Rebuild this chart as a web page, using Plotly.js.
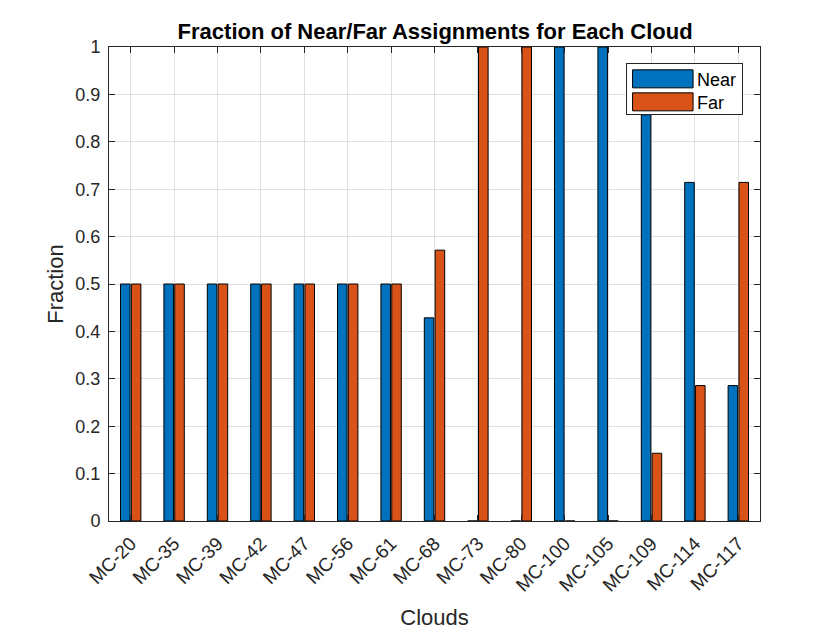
<!DOCTYPE html>
<html>
<head>
<meta charset="utf-8">
<script src="https://cdn.plot.ly/plotly-3.0.1.min.js"></script>
<style>html,body{margin:0;padding:0;background:#fff;}</style>
</head>
<body>
<div id="chart" style="width:840px;height:630px;"></div>
<script>
var clouds = ["MC-20","MC-35","MC-39","MC-42","MC-47","MC-56","MC-61","MC-68","MC-73","MC-80","MC-100","MC-105","MC-109","MC-114","MC-117"];
var nearFrac = [0.5,0.5,0.5,0.5,0.5,0.5,0.5,0.4286,0,0,1,1,0.8571,0.7143,0.2857];
var farFrac  = [0.5,0.5,0.5,0.5,0.5,0.5,0.5,0.5714,1,1,0,0,0.1429,0.2857,0.7143];
var yTicks = [0,0.1,0.2,0.3,0.4,0.5,0.6,0.7,0.8,0.9,1];
var yTickText = ["0","0.1","0.2","0.3","0.4","0.5","0.6","0.7","0.8","0.9","1"];

var font = "Liberation Sans, Arial, Helvetica, sans-serif";
var traces = [
  {type:"bar", name:"Near", x:clouds, y:nearFrac,
   marker:{color:"#0072BD", line:{color:"#000000", width:1}}},
  {type:"bar", name:"Far", x:clouds, y:farFrac,
   marker:{color:"#D95319", line:{color:"#000000", width:1}}}
];
var axisCommon = {
  showline:true, mirror:"ticks", linecolor:"#262626", linewidth:1,
  ticks:"inside", ticklen:6, tickcolor:"#262626",
  showgrid:true, gridcolor:"#dfdfdf", gridwidth:1, zeroline:false,
  tickfont:{family:font, size:18, color:"#262626"}
};
var layout = {
  width:840, height:630,
  margin:{l:109, r:80, t:47, b:109, pad:0},
  paper_bgcolor:"#ffffff", plot_bgcolor:"#ffffff",
  barmode:"group", bargap:0.5, bargroupgap:0.12,
  title:{text:"<b>Fraction of Near/Far Assignments for Each Cloud</b>",
         font:{family:font, size:22, color:"#000000"}, x:0.518, xanchor:"center", y:0.951, yanchor:"middle"},
  xaxis:Object.assign({}, axisCommon, {
    type:"category", tickangle:-45,
    tickfont:{family:font, size:19, color:"#262626"},
    ticklabelstandoff:3,
    title:{text:"Clouds", font:{family:font, size:22, color:"#262626"}, standoff:16}
  }),
  yaxis:Object.assign({}, axisCommon, {
    range:[0,1], tickvals:yTicks, ticktext:yTickText,
    ticklabelstandoff:4,
    title:{text:"Fraction", font:{family:font, size:22, color:"#262626"}, standoff:5}
  }),
  legend:{x:0.974, y:0.967, xanchor:"right", yanchor:"top",
    bgcolor:"#ffffff", bordercolor:"#262626", borderwidth:1,
    font:{family:font, size:18, color:"#000000"}, itemwidth:60, tracegroupgap:0},
  showlegend:true
};
Plotly.newPlot("chart", traces, layout, {staticPlot:true, displayModeBar:false}).then(function(gd){
  var bg = gd.querySelector(".legend .bg");
  var bgLeft = bg.getBoundingClientRect().left;
  var items = Array.prototype.slice.call(gd.querySelectorAll(".legend .traces"));
  items.forEach(function(it){
    var p = it.querySelector(".legendpoints path");
    var t = it.querySelector("text.legendtext");
    if(!p || !t) return;
    var ox = p.getScreenCTM().e;
    var tl = t.getBoundingClientRect().left;
    var x0 = bgLeft + 6 - ox, x1 = tl - 4 - ox;
    p.setAttribute("d","M"+x0+",-9H"+x1+"V9H"+x0+"Z");
    p.style.strokeWidth = "1px";
    p.style.stroke = "#000000";
  });
  // tighten vertical spacing of legend entries
  var spacing = 23, shrink = 0, firstY = null;
  items.forEach(function(it, i){
    var tr = it.getAttribute("transform") || "";
    var m = tr.match(/translate\(\s*([-\d.e]+)[ ,]+([-\d.e]+)\s*\)/);
    if(!m) return;
    var x = parseFloat(m[1]), y = parseFloat(m[2]);
    if(i === 0){ firstY = y - 3; y = firstY; }
    else { var ny = firstY + spacing*i; shrink = y - ny; y = ny; }
    it.setAttribute("transform","translate("+x+","+y+")");
  });
  var h = parseFloat(bg.getAttribute("height"));
  if(!isNaN(h)) bg.setAttribute("height", h - shrink - 6);
});
</script>
</body>
</html>
